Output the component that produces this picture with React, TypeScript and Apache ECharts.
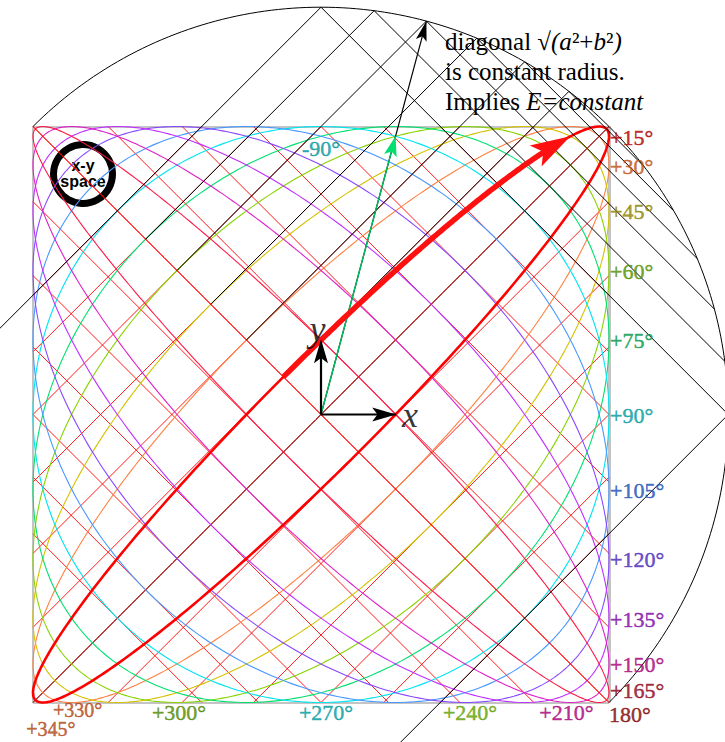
import React, { useEffect, useRef } from "react";
import * as echarts from "echarts";

// ---------- data ----------
// phase lags of the Lissajous curves x = cos t, y = cos(t - phase)
const CURVE_PHASES = [0, 15, 30, 45, 60, 75, 90, 105, 120, 135, 150, 165, 180];
const CURVE_COLORS = ["#a00000", "#ff0000", "#ff8040", "#d4c200", "#88d400", "#00e070", "#00e4f0", "#4898ff", "#8848ff", "#c030ff", "#e020c8", "#ff1848", "#ff0000"];
const CURVE_WIDTHS = [1, 2.6, 1.1, 1.1, 1.1, 1.1, 1.1, 1.1, 1.1, 1.1, 1.1, 1.1, 1];

// bounding rectangles (diagonal = constant radius) drawn in black
const RECT_PHASES = [15, 30, 45, 60, 75, 90];
// thin red rectangle sides inside the square
const GRID_PHASES = [15, 30, 45, 60, 75, 90];

const ARROW_PHASE = 60; // black/green arrow to the rectangle corner
const RED_ARROW_PHASE = 15; // thick arrow along this ellipse
const RED_ARROW_FROM = 90; // ellipse parameter (deg) where the arrow starts
const RED_ARROW_TO = 22.5; // ellipse parameter (deg) of the arrow tip

const RIGHT_LABELS = ["+15°", "+30°", "+45°", "+60°", "+75°", "+90°", "+105°", "+120°", "+135°", "+150°", "+165°", "180°"];
const RIGHT_LABEL_PHASES = [15, 30, 45, 60, 75, 90, 105, 120, 135, 150, 165, 180];
const RIGHT_LABEL_COLORS = ["#b00000", "#c05010", "#8c8400", "#509000", "#009848", "#009ca0", "#1850b8", "#4828b8", "#8008a8", "#a80078", "#900018", "#800000"];

const BOTTOM_LABELS = ["+210°", "+240°", "+270°", "+300°", "+330°", "+345°"];
const BOTTOM_LABEL_PHASES = [210, 240, 270, 300, 330, 345];
const BOTTOM_LABEL_COLORS = ["#a80078", "#60a000", "#009ca0", "#508800", "#b04818", "#b04818"];

const TOP_LABEL = "-90°";
const TOP_LABEL_COLOR = "#00989e";

const TEXT_LINES = [
  "diagonal √{i|(a}²+{i|b}²{i|)}",
  "is constant radius.",
  "Implies {i|E=constant}",
];

// ---------- helpers ----------
const SQ2 = Math.SQRT2;
const rad = (d: number) => (d * Math.PI) / 180;
const uv = (u: number, v: number) => [(u - v) / SQ2, (u + v) / SQ2];
const semiA = (p: number) => SQ2 * Math.cos(rad(p / 2));
const semiB = (p: number) => SQ2 * Math.sin(rad(p / 2));

function ellipse(p: number) {
  const pts: number[][] = [];
  for (let t = 0; t <= 360; t += 1) pts.push([Math.cos(rad(t)), Math.cos(rad(t - p))]);
  return pts;
}

function clipU(c: number) {
  const s = SQ2 * c; // x + y = s
  const lo = Math.max(-1, s - 1), hi = Math.min(1, s + 1);
  if (lo >= hi) return null;
  return [[lo, s - lo], [hi, s - hi]];
}
function clipV(c: number) {
  const s = SQ2 * c; // y - x = s
  const lo = Math.max(-1, -1 - s), hi = Math.min(1, 1 - s);
  if (lo >= hi) return null;
  return [[lo, lo + s], [hi, hi + s]];
}

// layout of the plotting area (pixels)
const W = 725, H = 742, CX = 321, CY = 414.5, SC = 288;

function buildOption() {
  // red grid
  const gridSegs: any[] = [];
  GRID_PHASES.forEach((p) => {
    const c = semiB(p);
    [c, -c].forEach((cc) => {
      const a = clipU(cc);
      const b = clipV(cc);
      if (a) gridSegs.push({ coords: a });
      if (b) gridSegs.push({ coords: b });
    });
  });

  // ellipses
  const curves = CURVE_PHASES.map((p, i) => ({
    coords: ellipse(p),
    lineStyle: { color: CURVE_COLORS[i], width: CURVE_WIDTHS[i] },
  }));
  const order = curves.map((c, i) => i).filter((i) => CURVE_PHASES[i] !== 15).concat([CURVE_PHASES.indexOf(15)]);
  const curveData = order.map((i) => curves[i]);

  // black rectangle sides
  const blackSegs: any[] = [];
  RECT_PHASES.forEach((p) => {
    const a = semiA(p), b = semiB(p);
    const uStart = p === 90 ? -a : 0;
    blackSegs.push({ coords: [uv(uStart, b), uv(a, b)] });
    blackSegs.push({ coords: [uv(a, b), uv(a, -b)] });
    if (p === 90) blackSegs.push({ coords: [uv(a, -b), uv(-a, -b)] });
  });

  // circle arc (constant radius)
  const arc: number[][] = [];
  for (let t = 135; t >= -45; t -= 1) arc.push([SQ2 * Math.cos(rad(t)), SQ2 * Math.sin(rad(t))]);

  // arrows
  const aA = semiA(ARROW_PHASE), bA = semiB(ARROW_PHASE);
  const corner = uv(aA, bA);
  const len = Math.hypot(corner[0], corner[1]);
  const greenTip = [corner[0] / len, corner[1] / len];
  const axisLen = SQ2 * semiB(15);
  const xTip = [axisLen, 0];
  const yTip = [0, axisLen];

  const aR = semiA(RED_ARROW_PHASE), bR = semiB(RED_ARROW_PHASE);
  const redPts: number[][] = [];
  for (let s = RED_ARROW_FROM; s >= RED_ARROW_TO - 0.01; s -= 0.5) {
    redPts.push(uv(aR * Math.cos(rad(s)), bR * Math.sin(rad(s))));
  }
  const redTip = redPts[redPts.length - 1];
  const redBack = uv(aR * Math.cos(rad(RED_ARROW_TO + 6)), bR * Math.sin(rad(RED_ARROW_TO + 6)));
  const redShaft = redPts.slice(0, redPts.length - 14);

  const heads = [
    { value: [corner[0], corner[1], 0, 0, 20, 5.5], itemStyle: { color: "#000" } },
    { value: [greenTip[0], greenTip[1], 0, 0, 20, 6.5], itemStyle: { color: "#00e070" } },
    { value: [xTip[0], xTip[1], 0, 0, 24, 7], itemStyle: { color: "#000" } },
    { value: [yTip[0], yTip[1], 0, 0, 24, 7], itemStyle: { color: "#000" } },
    { value: [redTip[0], redTip[1], redBack[0], redBack[1], 40, 12], itemStyle: { color: "#ff1010" } },
  ];

  // labels
  const labelData: any[] = [];
  RIGHT_LABELS.forEach((t, i) => {
    const p = RIGHT_LABEL_PHASES[i];
    const c = RIGHT_LABEL_COLORS[i];
    labelData.push({
      value: [1, Math.cos(rad(p))],
      label: { formatter: t, color: c, textBorderColor: c, position: "right", distance: 0, offset: p === 180 ? [0, 12] : p === 165 ? [1, -2] : [1, 1] },
    });
  });
  const bottomOffsets = [[-4, 0], [5, 0], [5, 0], [2, 0], [6, -3], [8, 16]];
  const bottomSizes = [22, 22, 22, 22, 20, 20];
  BOTTOM_LABELS.forEach((t, i) => {
    const p = BOTTOM_LABEL_PHASES[i];
    const c = BOTTOM_LABEL_COLORS[i];
    labelData.push({
      value: [-Math.cos(rad(p)), -1],
      label: { formatter: t, color: c, textBorderColor: c, fontSize: bottomSizes[i], position: "bottom", distance: 1, offset: bottomOffsets[i] },
    });
  });
  labelData.push({
    value: [0, 1],
    label: { formatter: TOP_LABEL, color: TOP_LABEL_COLOR, textBorderColor: TOP_LABEL_COLOR, position: "bottom", distance: 13, offset: [0, 0] },
  });

  const axisLabels = [
    { value: [xTip[0] + 0.048, 0.0], label: { formatter: "x" } },
    { value: [-0.012, yTip[1] + 0.035], label: { formatter: "y" } },
  ];

  return {
    animation: false,
    grid: { left: 0, top: 0, width: W, height: H },
    xAxis: { type: "value", min: -CX / SC, max: (W - CX) / SC, show: false },
    yAxis: { type: "value", min: -(H - CY) / SC, max: CY / SC, show: false },
    series: [
      {
        type: "lines", coordinateSystem: "cartesian2d", silent: true,
        lineStyle: { color: "#c4c4c4", width: 2, opacity: 1 },
        data: [
          { coords: [[-1, 1], [1, 1]] },
          { coords: [[-1, 1], [-1, -1]] },
          { coords: [[-1, -1], [1, -1]] },
          { coords: [[1, 1], [1, -1]], lineStyle: { width: 3 } },
        ],
      },
      {
        type: "lines", coordinateSystem: "cartesian2d", silent: true,
        lineStyle: { color: "#ff0000", width: 0.9, opacity: 1 },
        data: gridSegs,
      },
      {
        type: "lines", coordinateSystem: "cartesian2d", polyline: true, silent: true,
        lineStyle: { opacity: 1 },
        data: curveData,
      },
      {
        type: "lines", coordinateSystem: "cartesian2d", silent: true,
        lineStyle: { color: "#000", width: 1, opacity: 1 },
        data: blackSegs,
      },
      {
        type: "lines", coordinateSystem: "cartesian2d", polyline: true, silent: true,
        lineStyle: { color: "#000", width: 1, opacity: 1 },
        data: [{ coords: arc }],
      },
      {
        type: "lines", coordinateSystem: "cartesian2d", polyline: true, silent: true,
        lineStyle: { opacity: 1 },
        data: [
          { coords: [[0, 0], corner], lineStyle: { color: "#000", width: 1.2 } },
          { coords: [[0, 0], greenTip], lineStyle: { color: "#00c060", width: 1.4 } },
          { coords: [[0, 0], xTip], lineStyle: { color: "#000", width: 2.2 } },
          { coords: [[0, 0], yTip], lineStyle: { color: "#000", width: 2.2 } },
          { coords: redShaft, lineStyle: { color: "#ff1010", width: 5.5 } },
        ],
      },
      {
        type: "custom", silent: true,
        data: heads,
        renderItem: (params: any, api: any) => {
          const tip = api.coord([api.value(0), api.value(1)]);
          const from = api.coord([api.value(2), api.value(3)]);
          const L = api.value(4), Wd = api.value(5);
          let dx = tip[0] - from[0], dy = tip[1] - from[1];
          const n = Math.hypot(dx, dy) || 1;
          dx /= n; dy /= n;
          const px = -dy, py = dx;
          const bx = tip[0] - dx * L, by = tip[1] - dy * L;
          const nx = tip[0] - dx * L * 0.78, ny = tip[1] - dy * L * 0.78;
          return {
            type: "polygon",
            shape: { points: [tip, [bx + px * Wd, by + py * Wd], [nx, ny], [bx - px * Wd, by - py * Wd]] },
            style: { fill: api.visual("color") },
          };
        },
      },
      {
        type: "scatter", silent: true, symbolSize: 0,
        label: { show: true, fontFamily: "Liberation Serif", fontSize: 22, lineHeight: 18, textBorderWidth: 0.5 },
        data: labelData,
      },
      {
        type: "scatter", silent: true, symbolSize: 0,
        label: { show: true, position: "inside", fontFamily: "Liberation Serif", fontStyle: "italic", fontSize: 36, color: "#000" },
        data: axisLabels,
      },
    ],
    graphic: [
      ...TEXT_LINES.map((t, i) => ({
        type: "text", left: 445, top: 29 + i * 30, silent: true,
        style: {
          text: t, fill: "#000", fontFamily: "Liberation Serif", fontSize: 25,
          rich: { i: { fontStyle: "italic", fontFamily: "Liberation Serif", fontSize: 25, fill: "#000" } },
        },
      })),
      {
        type: "circle", silent: true,
        shape: { cx: 83, cy: 174, r: 29.5 },
        style: { fill: "none", stroke: "#000", lineWidth: 7 },
      },
      {
        type: "text", silent: true, x: 83, y: 165,
        style: { text: "x-y", fill: "#000", fontFamily: "Liberation Sans", fontWeight: "bold", fontSize: 16, align: "center", verticalAlign: "middle" },
      },
      {
        type: "text", silent: true, x: 83, y: 181,
        style: { text: "space", fill: "#000", fontFamily: "Liberation Sans", fontWeight: "bold", fontSize: 16, align: "center", verticalAlign: "middle" },
      },
    ],
  };
}

export default function App() {
  const ref = useRef<HTMLDivElement>(null);
  useEffect(() => {
    document.body.style.margin = "0";
    const chart = echarts.init(ref.current!, undefined, { renderer: "svg" });
    chart.setOption(buildOption() as any);
    return () => chart.dispose();
  }, []);
  return <div ref={ref} style={{ position: "absolute", left: 0, top: 0, width: W, height: H }} />;
}
